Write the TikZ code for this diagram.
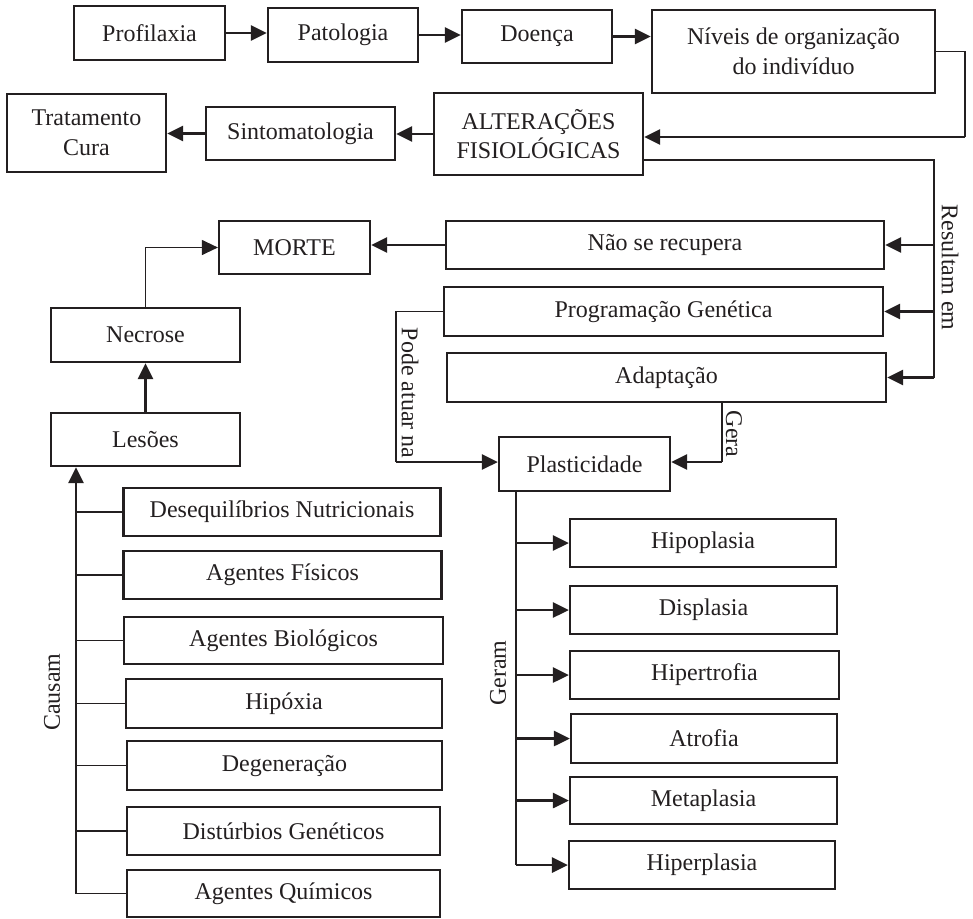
\documentclass[tikz,border=0pt]{standalone}
\usepackage{fontspec}
\setmainfont{Liberation Serif}
\usetikzlibrary{arrows.meta,calc}
\definecolor{ink}{HTML}{231F20}
\begin{document}
\begin{tikzpicture}[x=1pt,y=-1pt,
  box/.style={draw=ink,line width=2.2pt,inner sep=0pt,align=center,text=ink,
    font=\fontsize{24}{29.5}\selectfont},
  thinl/.style={draw=ink,line width=1.2pt},
  arr/.style={draw=ink,line width=2.8pt,-{Triangle[length=16pt,width=15pt]}},
  thinarr/.style={draw=ink,line width=1.2pt,-{Triangle[length=16pt,width=15pt]}},
  lbl/.style={text=ink,inner sep=0pt,font=\fontsize{24}{29.5}\selectfont}]
\useasboundingbox (0,0) rectangle (973,918);

% top row
\node[box,minimum width=151pt,minimum height=54pt] (prof) at (149.5,33) {Profilaxia};
\node[box,minimum width=150pt,minimum height=54pt] (pat) at (343,35) {Patologia};
\node[box,minimum width=150pt,minimum height=53pt] (doe) at (537,36.5) {Doença};
\node[box,minimum width=283pt,minimum height=83pt] (niv) at (793.5,51.5) {Níveis de organização\\do indivíduo};
% second row
\node[box,minimum width=159pt,minimum height=78pt] (trat) at (86.5,133) {Tratamento\\Cura};
\node[box,minimum width=189pt,minimum height=53pt] (sint) at (300.5,133.5) {Sintomatologia};
\node[box,minimum width=209pt,minimum height=82pt] (alt) at (538.5,134) {ALTERAÇÕES\\FISIOLÓGICAS};
% results
\node[box,minimum width=438pt,minimum height=48pt] (nrec) at (665,245) {Não se recupera};
\node[box,minimum width=439pt,minimum height=49pt] (prog) at (663.5,311.5) {Programação Genética};
\node[box,minimum width=439pt,minimum height=49pt] (adap) at (666.5,377.5) {Adaptação};
\node[box,minimum width=151pt,minimum height=53pt] (morte) at (294.5,247.5) {MORTE};
\node[box,minimum width=189pt,minimum height=54pt] (necr) at (145.5,335) {Necrose};
\node[box,minimum width=189pt,minimum height=53pt] (les) at (145.5,439.5) {Lesões};
\node[box,minimum width=171pt,minimum height=54pt] (plas) at (584.5,464) {Plasticidade};
% causes
\node[box,minimum width=317pt,minimum height=48pt] (deseq) at (282,512) {Desequilíbrios Nutricionais};
\node[box,minimum width=318pt,minimum height=48pt] (fis) at (282.5,575) {Agentes Físicos};
\node[box,minimum width=319pt,minimum height=47pt] (bio) at (283.5,640.5) {Agentes Biológicos};
\node[box,minimum width=316pt,minimum height=49pt] (hip) at (284,703.5) {Hipóxia};
\node[box,minimum width=315pt,minimum height=49pt] (deg) at (284.5,765.5) {Degeneração};
\node[box,minimum width=313pt,minimum height=48pt] (dist) at (283.5,831) {Distúrbios Genéticos};
\node[box,minimum width=313pt,minimum height=47pt] (quim) at (283.5,893.5) {Agentes Químicos};
% plasticity outcomes
\node[box,minimum width=266pt,minimum height=48pt] (hipo) at (703,543) {Hipoplasia};
\node[box,minimum width=267pt,minimum height=48pt] (disp) at (703.5,610) {Displasia};
\node[box,minimum width=269pt,minimum height=48pt] (hipt) at (704.5,675) {Hipertrofia};
\node[box,minimum width=266pt,minimum height=49pt] (atro) at (704,738.5) {Atrofia};
\node[box,minimum width=267pt,minimum height=47pt] (meta) at (703.5,800.5) {Metaplasia};
\node[box,minimum width=266pt,minimum height=48pt] (hipe) at (702,865) {Hiperplasia};

% labels
\node[lbl,rotate=-90] (lres) at (950,267.5) {Resultam em};
\node[lbl,rotate=-90] (lpode) at (410,393) {Pode atuar na};
\node[lbl,rotate=-90] (lgera) at (734,434) {Gera};
\node[lbl,rotate=90] (lcaus) at (52,692) {Causam};
\node[lbl,rotate=90] (lger) at (498,673) {Geram};

% coordinates
\coordinate (n1) at (965,137);
\coordinate (r0) at (934,160);
\coordinate (pa) at (396,462);
\coordinate (g1) at (722,462);
\coordinate (gt) at (516,0);
\coordinate (ct) at (76,0);

% top row arrows
\draw[arr] (prof.east) -- (prof.east -| pat.west);
\draw[arr] (pat.east) -- (pat.east -| doe.west);
\draw[arr] (doe.east) -- (doe.east -| niv.west);
\draw[thinl] (niv.east) -| (n1);
\draw[arr] (n1) -- (n1 -| alt.east);
\draw[arr] (alt.west) -- (alt.west -| sint.east);
\draw[arr] (sint.west) -- (sint.west -| trat.east);

% results
\draw[thinl] (alt.east |- r0) -- (r0) -- (adap.east -| r0);
\draw[arr] (nrec.east -| r0) -- (nrec.east);
\draw[arr] (prog.east -| r0) -- (prog.east);
\draw[arr] (adap.east -| r0) -- (adap.east);
\draw[arr] (nrec.west) -- (nrec.west -| morte.east);
\draw[thinarr] (necr.north) |- (morte.west);
\draw[arr] (les.north) -- (necr.south);

% pode atuar / gera
\draw[thinl] (prog.west) -| (pa);
\draw[arr] (pa) -- (pa -| plas.west);
\draw[thinl] (adap.south -| g1) -- (g1);
\draw[arr] (g1) -- (g1 -| plas.east);

% geram
\draw[thinl] (plas.south -| gt) -- (hipe.west -| gt);
\foreach \n in {hipo,disp,hipt,atro,meta,hipe}
  \draw[arr] (\n.west -| gt) -- (\n.west);

% causam
\draw[arr] (quim.west -| ct) -- (les.south -| ct);
\foreach \n in {deseq,fis,bio,hip,deg,dist,quim}
  \draw[thinl] (\n.west -| ct) -- (\n.west);
\end{tikzpicture}
\end{document}
